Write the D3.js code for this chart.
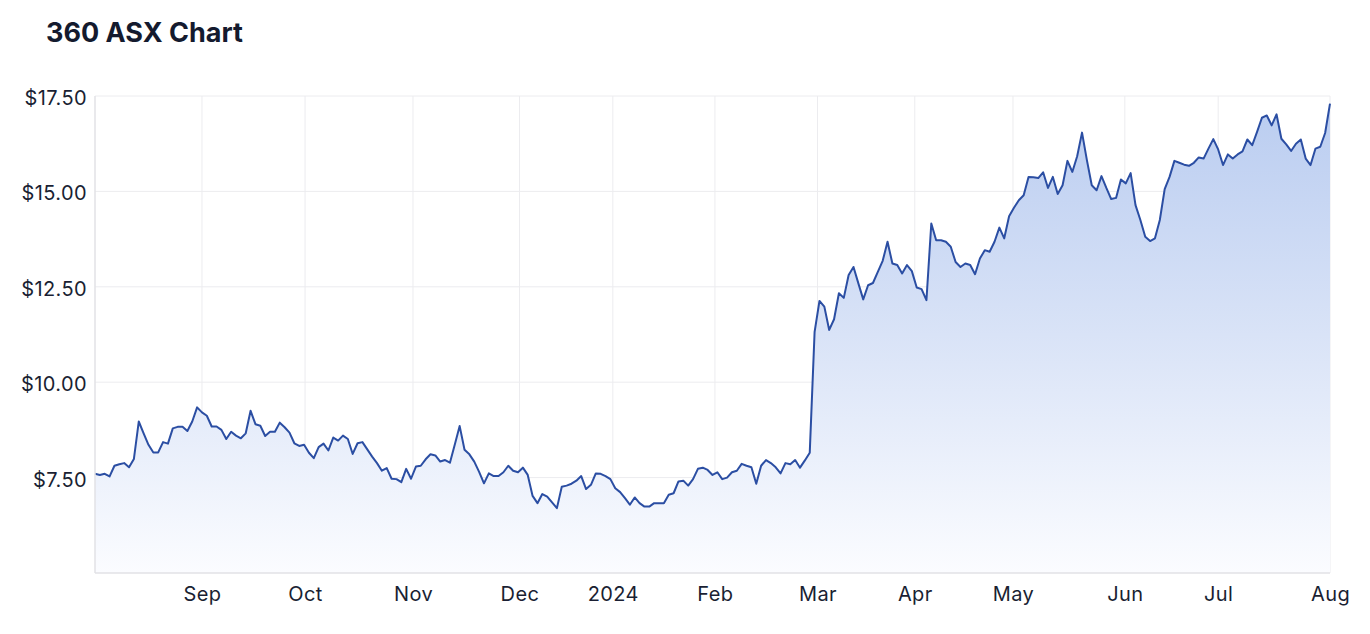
<!DOCTYPE html>
<html>
<head>
<meta charset="utf-8">
<script src="https://cdn.jsdelivr.net/npm/d3@7"></script>
<style>
  html, body { margin: 0; padding: 0; background: #ffffff; }
  svg { display: block; font-family: Inter, "Noto Sans", sans-serif; }
</style>
</head>
<body>
<svg id="chart" width="1370" height="634"></svg>
<script>
// ---- data (daily closes, trading-day index) ----
const prices = [
  7.60, 7.57, 7.60, 7.53, 7.81, 7.85, 7.88, 7.77, 7.99, 8.97,
  8.66, 8.36, 8.16, 8.16, 8.43, 8.39, 8.79, 8.83, 8.83, 8.72,
  8.97, 9.34, 9.21, 9.12, 8.84, 8.84, 8.75, 8.51, 8.70, 8.60,
  8.53, 8.66, 9.25, 8.90, 8.86, 8.59, 8.70, 8.70, 8.94, 8.82,
  8.68, 8.40, 8.33, 8.36, 8.15, 8.01, 8.30, 8.39, 8.21, 8.55,
  8.47, 8.60, 8.51, 8.12, 8.40, 8.43, 8.24, 8.05, 7.88, 7.68,
  7.75, 7.47, 7.46, 7.38, 7.73, 7.47, 7.79, 7.81, 7.98, 8.11,
  8.08, 7.92, 7.96, 7.89, 8.37, 8.85, 8.23, 8.11, 7.92, 7.65,
  7.35, 7.61, 7.54, 7.54, 7.64, 7.81, 7.68, 7.64, 7.76, 7.57,
  7.02, 6.83, 7.07, 7.00, 6.85, 6.70, 7.26, 7.29, 7.34, 7.42,
  7.54, 7.20, 7.31, 7.61, 7.60, 7.54, 7.46, 7.22, 7.12, 6.96,
  6.79, 6.98, 6.83, 6.74, 6.74, 6.83, 6.83, 6.83, 7.05, 7.09,
  7.40, 7.42, 7.29, 7.46, 7.73, 7.76, 7.70, 7.57, 7.64, 7.46,
  7.50, 7.64, 7.68, 7.86, 7.81, 7.77, 7.34, 7.81, 7.96, 7.88,
  7.77, 7.61, 7.88, 7.85, 7.96, 7.76, 7.95, 8.15, 11.32, 12.13,
  11.98, 11.37, 11.65, 12.33, 12.21, 12.81, 13.02, 12.59, 12.17, 12.54,
  12.60, 12.89, 13.18, 13.68, 13.11, 13.07, 12.85, 13.07, 12.91, 12.48,
  12.44, 12.15, 14.16, 13.72, 13.72, 13.68, 13.55, 13.15, 13.02, 13.11,
  13.07, 12.83, 13.24, 13.46, 13.42, 13.68, 14.05, 13.77, 14.35, 14.57,
  14.77, 14.90, 15.38, 15.37, 15.35, 15.50, 15.09, 15.38, 14.93, 15.16,
  15.80, 15.51, 15.92, 16.54, 15.82, 15.16, 15.03, 15.40, 15.09, 14.80,
  14.83, 15.31, 15.21, 15.48, 14.64, 14.25, 13.81, 13.70, 13.77, 14.25,
  15.06, 15.38, 15.80, 15.75, 15.70, 15.67, 15.75, 15.89, 15.86, 16.12,
  16.37, 16.10, 15.69, 15.97, 15.86, 15.97, 16.05, 16.36, 16.21, 16.56,
  16.93, 16.99, 16.73, 17.02, 16.38, 16.23, 16.06, 16.25, 16.36, 15.86,
  15.69, 16.12, 16.17, 16.53, 17.30
];
const monthLabels = ["Sep", "Oct", "Nov", "Dec", "2024", "Feb", "Mar", "Apr", "May", "Jun", "Jul", "Aug"];
const monthIndex  = [22.0, 43.2, 65.4, 87.3, 106.5, 127.5, 148.6, 168.6, 188.8, 211.8, 231.0, 254];
const yTicks = [7.5, 10, 12.5, 15, 17.5];
const yMin = 5, yMax = 17.5;
const title = "360 ASX Chart";

// ---- layout ----
const W = 1370, H = 634;
const m = { top: 96, right: 40, bottom: 61, left: 95 };
const iw = W - m.left - m.right, ih = H - m.top - m.bottom;
const font = "Inter, 'Noto Sans', sans-serif";

const svg = d3.select("#chart");
const g = svg.append("g").attr("transform", `translate(${m.left},${m.top})`);

const x = d3.scaleLinear().domain([0, prices.length - 1]).range([0, iw]);
const y = d3.scaleLinear().domain([yMin, yMax]).range([ih, 0]);

// gradient
const defs = svg.append("defs");
const grad = defs.append("linearGradient").attr("id", "fillGrad")
  .attr("gradientUnits", "userSpaceOnUse")
  .attr("x1", 0).attr("y1", 0).attr("x2", 0).attr("y2", ih);
grad.append("stop").attr("offset", "0%").attr("stop-color", "#b9ccf0");
grad.append("stop").attr("offset", "50%").attr("stop-color", "#d9e3f7");
grad.append("stop").attr("offset", "100%").attr("stop-color", "#fbfcff");

// grid
const gridColor = "#ececef";
g.append("g").selectAll("line").data(yTicks).join("line")
  .attr("x1", 0).attr("x2", iw)
  .attr("y1", d => y(d)).attr("y2", d => y(d))
  .attr("stroke", gridColor).attr("stroke-width", 1);
g.append("g").selectAll("line").data(monthIndex).join("line")
  .attr("x1", d => x(d)).attr("x2", d => x(d))
  .attr("y1", 0).attr("y2", ih)
  .attr("stroke", gridColor).attr("stroke-width", 1);

// area + line
const area = d3.area().x((d, i) => x(i)).y0(ih).y1(d => y(d));
const line = d3.line().x((d, i) => x(i)).y(d => y(d));
g.append("path").datum(prices).attr("d", area).attr("fill", "url(#fillGrad)");
g.append("path").datum(prices).attr("d", line)
  .attr("fill", "none").attr("stroke", "#2b4ea3").attr("stroke-width", 2)
  .attr("stroke-linejoin", "round");

// frame (left + bottom)
g.append("line").attr("x1", 0).attr("x2", 0).attr("y1", 0).attr("y2", ih)
  .attr("stroke", "#e2e2e6").attr("stroke-width", 1.5);
g.append("line").attr("x1", 0).attr("x2", iw).attr("y1", ih).attr("y2", ih)
  .attr("stroke", "#e2e2e6").attr("stroke-width", 1.5);

// axes
const yAxis = d3.axisLeft(y).tickValues(yTicks).tickSize(0).tickPadding(8)
  .tickFormat(d => "$" + d3.format(".2f")(d));
const ya = g.append("g").call(yAxis);
ya.select(".domain").remove();
ya.selectAll("text").attr("fill", "#1a1f33").attr("dy", "0.42em")
  .style("font-size", "20px").style("letter-spacing", "0.4px")
  .style("font-family", font);

const xAxis = d3.axisBottom(x).tickValues(monthIndex).tickSize(0).tickPadding(14)
  .tickFormat((d, i) => monthLabels[i]);
const xa = g.append("g").attr("transform", `translate(0,${ih})`).call(xAxis);
xa.select(".domain").remove();
xa.selectAll("text").attr("fill", "#1a1f33")
  .style("font-size", "20px").style("letter-spacing", "0.4px")
  .style("font-family", font);

// title
svg.append("text").attr("x", 46).attr("y", 42).text(title)
  .attr("fill", "#141a2e").style("font-size", "27px").style("font-weight", 700)
  .style("font-family", font);
</script>
</body>
</html>
